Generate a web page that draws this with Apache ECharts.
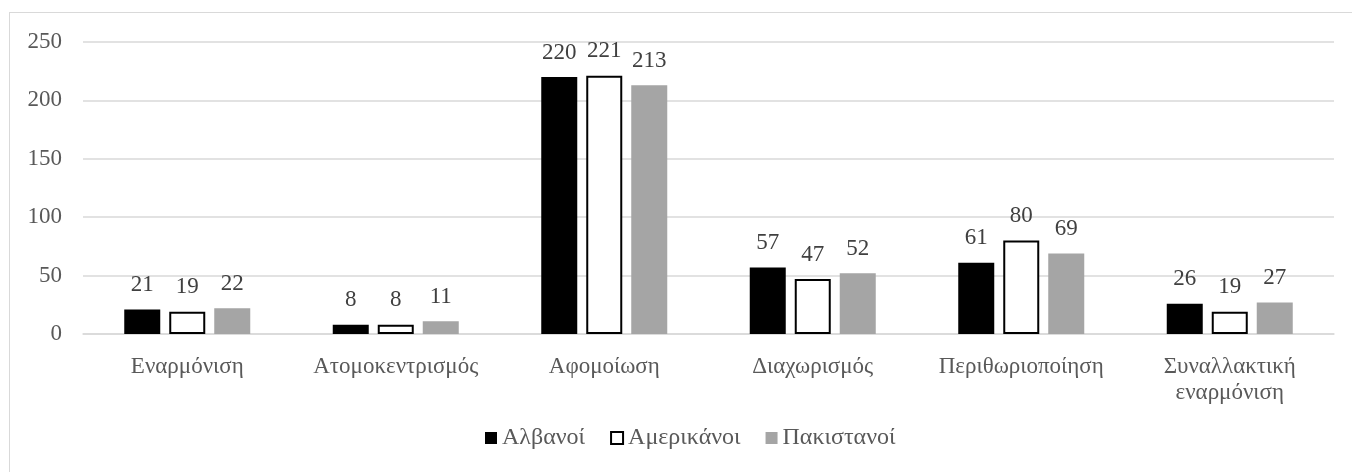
<!DOCTYPE html>
<html>
<head>
<meta charset="utf-8">
<script src="https://cdn.jsdelivr.net/npm/echarts@6/dist/echarts.min.js"></script>
<style>
  html, body { margin: 0; padding: 0; background: #fff; overflow: hidden; }
  #frame {
    position: absolute; left: 9px; top: 12px;
    width: 1400px; height: 500px;
    border: 1px solid #d9d9d9; box-sizing: border-box;
  }
  #main { position: absolute; left: 0; top: 0; width: 1352px; height: 472px; }
</style>
</head>
<body>
<div id="frame"></div>
<div id="main"></div>
<script>
// κατηγορίες και τιμές
const categories = ['Εναρμόνιση', 'Ατομοκεντρισμός', 'Αφομοίωση', 'Διαχωρισμός', 'Περιθωριοποίηση', 'Συναλλακτική\nεναρμόνιση'];
const albanians = [21, 8, 220, 57, 61, 26];
const americans = [19, 8, 221, 47, 80, 19];
const pakistanis = [22, 11, 213, 52, 69, 27];
const yTicks = { min: 0, max: 250, interval: 50 };

const font = '"Liberation Serif", "DejaVu Serif", serif';

function makeSeries(name, data, style) {
  return {
    name: name,
    type: 'bar',
    data: data,
    barWidth: 36,
    barGap: '25%',
    itemStyle: style,
    label: {
      show: true,
      position: 'top',
      distance: 13,
      color: '#404040',
      fontSize: 23,
      fontFamily: font
    }
  };
}

const chart = echarts.init(document.getElementById('main'));
chart.setOption({
  animation: false,
  textStyle: { fontFamily: font },
  grid: { left: 83, right: 18, top: 42, bottom: 138, containLabel: false },
  legend: {
    bottom: 17,
    left: 480,
    itemWidth: 12,
    itemHeight: 12,
    itemGap: 25,
    icon: 'rect',
    textStyle: { color: '#595959', fontSize: 24, fontFamily: font }
  },
  xAxis: {
    type: 'category',
    data: categories,
    axisLine: { lineStyle: { color: '#d9d9d9', width: 1.5 } },
    axisTick: { show: false },
    axisLabel: {
      color: '#595959', fontSize: 23, fontFamily: font,
      margin: 20, lineHeight: 26, interval: 0
    }
  },
  yAxis: {
    type: 'value',
    min: yTicks.min,
    max: yTicks.max,
    interval: yTicks.interval,
    axisLine: { show: false },
    axisTick: { show: false },
    splitLine: { lineStyle: { color: '#d9d9d9', width: 1.5 } },
    axisLabel: { color: '#595959', fontSize: 23, fontFamily: font, margin: 21 }
  },
  series: [
    makeSeries('Αλβανοί', albanians, { color: '#000000' }),
    makeSeries('Αμερικάνοι', americans, { color: '#ffffff', borderColor: '#000000', borderWidth: 2 }),
    makeSeries('Πακιστανοί', pakistanis, { color: '#a5a5a5' })
  ]
});
</script>
</body>
</html>
